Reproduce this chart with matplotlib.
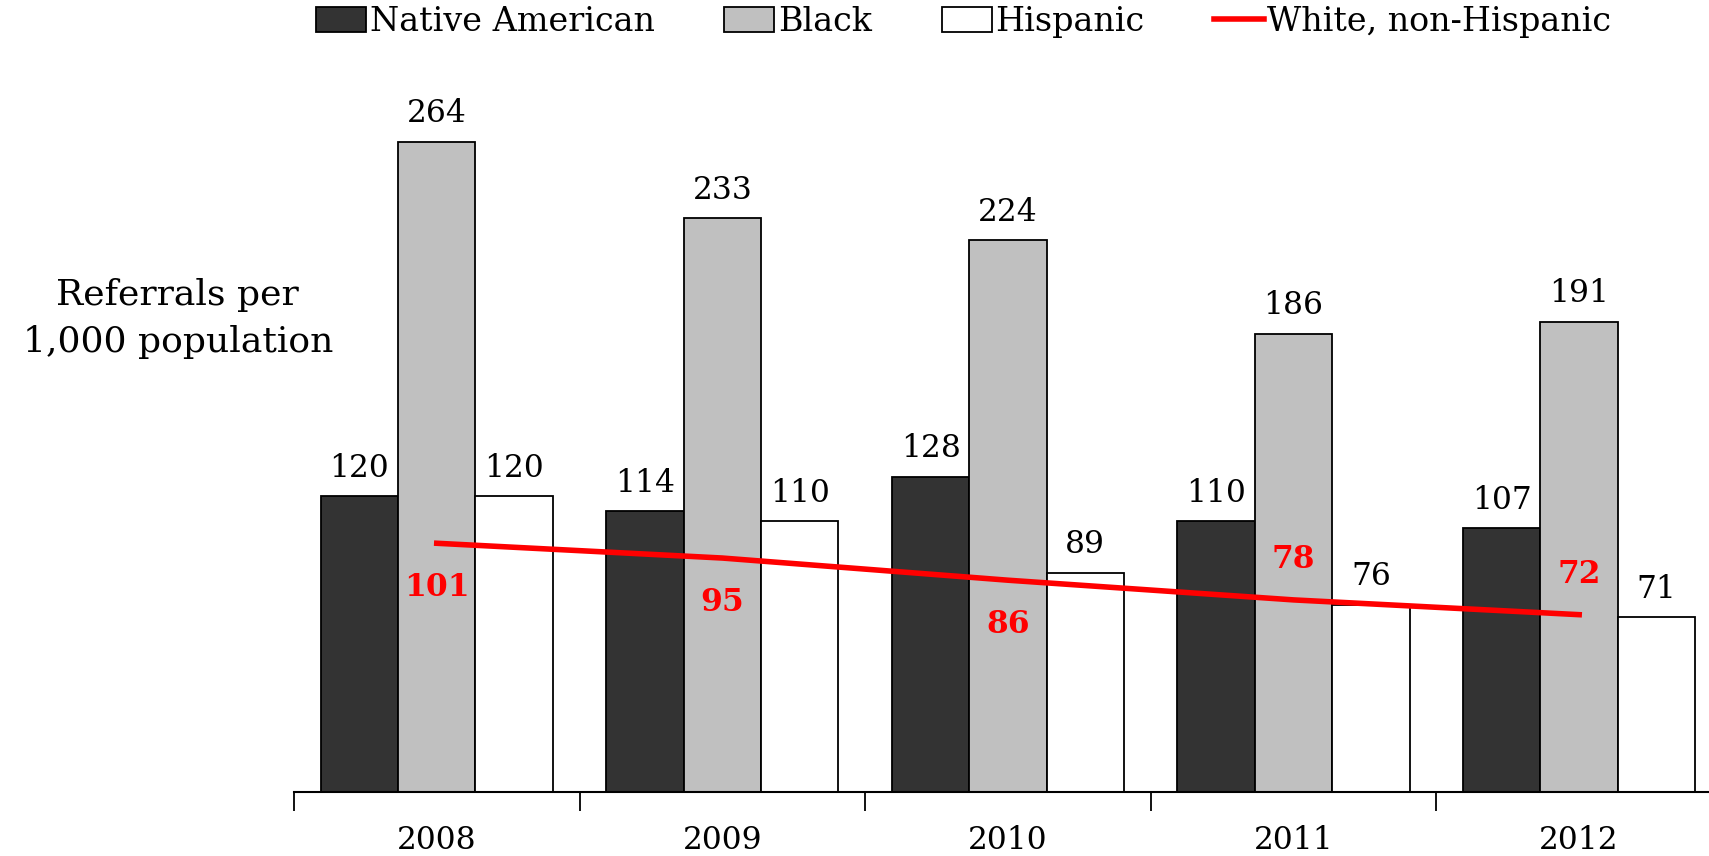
import numpy as np
import matplotlib.pyplot as plt
from matplotlib.patches import Patch
from matplotlib.lines import Line2D

plt.rcParams['font.family'] = ['DejaVu Serif']

years = ['2008', '2009', '2010', '2011', '2012']
native = [120, 114, 128, 110, 107]
black = [264, 233, 224, 186, 191]
hispanic = [120, 110, 89, 76, 71]
white = [101, 95, 86, 78, 72]
# white label sits below the line for the first three years, above for the last two
white_label_below = [True, True, True, False, False]

fig = plt.figure(figsize=(17.09, 8.56), dpi=100)
ax = fig.add_axes([0.172, 0.0748, 0.8356, 0.863])

x = np.arange(len(years))
w = 0.271
fs = 22.5

series = [(native, '#333333', -w), (black, '#c0c0c0', 0), (hispanic, '#ffffff', w)]
for vals, col, off in series:
    ax.bar(x + off, vals, w, color=col, edgecolor='black', linewidth=1.3, zorder=2)
    for xi, v in zip(x + off, vals):
        ax.annotate(str(v), (xi, v), xytext=(0, 9), textcoords='offset points',
                    ha='center', va='bottom', fontsize=fs)

ax.plot(x, white, color='#ff0000', linewidth=4, zorder=3)
for xi, v, below in zip(x, white, white_label_below):
    dy = -32 if below else 29
    ax.annotate(str(v), (xi, v), xytext=(0, dy), textcoords='offset points',
                ha='center', va='center', fontsize=fs, fontweight='bold', color='#ff0000', zorder=4)

ax.set_xlim(-0.5, 4.5)
ax.set_ylim(0, 300)
for s in ['top', 'right', 'left']:
    ax.spines[s].set_visible(False)
ax.spines['bottom'].set_linewidth(1.5)
ax.set_yticks([])
ax.set_xticks(x)
ax.set_xticklabels(years, fontsize=fs)
ax.tick_params(axis='x', which='major', length=0, pad=24)
ax.set_xticks(np.arange(-0.5, 5, 1), minor=True)
ax.tick_params(axis='x', which='minor', length=14, width=1.3, direction='out')

fig.text(0.104, 0.628, 'Referrals per\n1,000 population', ha='center', va='center',
         fontsize=26, linespacing=1.45)

handles = [Patch(facecolor='#333333', edgecolor='black', linewidth=1.3),
           Patch(facecolor='#c0c0c0', edgecolor='black', linewidth=1.3),
           Patch(facecolor='#ffffff', edgecolor='black', linewidth=1.3),
           Line2D([0], [0], color='#ff0000', linewidth=4)]
labels = ['Native American', 'Black', 'Hispanic', 'White, non-Hispanic']
fig.legend(handles, labels, loc='center', bbox_to_anchor=(0.564, 0.974), ncol=4,
           frameon=False, fontsize=24, handlelength=1.5, handleheight=0.75,
           handletextpad=0.1, columnspacing=2.1)

fig.savefig('out.png', dpi=100)
